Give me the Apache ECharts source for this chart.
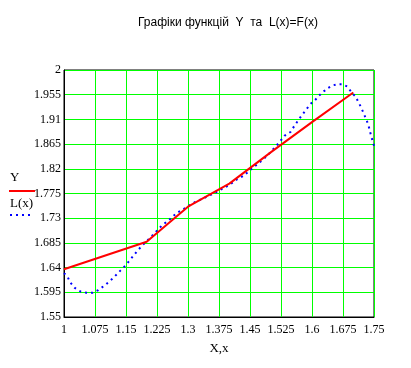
<!DOCTYPE html>
<html>
<head>
<meta charset="utf-8">
<script src="https://cdn.jsdelivr.net/npm/echarts@6/dist/echarts.min.js"></script>
<style>
  html, body { margin: 0; padding: 0; background: #fff; }
  #chart { width: 411px; height: 368px; }
</style>
</head>
<body>
<div id="chart"></div>
<script>
// Y - вузли (червона ламана)
var nodeX = [1.0, 1.2, 1.3, 1.4, 1.5, 1.6, 1.7];
var nodeY = [1.637, 1.687, 1.751, 1.793, 1.850, 1.905, 1.959];

// L(x) - синя пунктирна крива
var lx = [1.000, 1.009, 1.014, 1.026, 1.041, 1.055, 1.069, 1.083, 1.101, 1.119,
          1.137, 1.149, 1.163, 1.178, 1.190, 1.211, 1.222, 1.236, 1.256, 1.272,
          1.294, 1.316, 1.351, 1.372, 1.401, 1.419, 1.434, 1.451, 1.469, 1.486,
          1.502, 1.522, 1.533, 1.548, 1.558, 1.570, 1.584, 1.596, 1.606, 1.618,
          1.630, 1.638, 1.650, 1.661, 1.673, 1.685, 1.698, 1.705, 1.712, 1.718,
          1.724, 1.730, 1.736, 1.743, 1.750];
var ly = [1.630, 1.623, 1.614, 1.603, 1.596, 1.594, 1.594, 1.599, 1.609, 1.621,
          1.635, 1.644, 1.657, 1.671, 1.681, 1.696, 1.705, 1.716, 1.728, 1.739,
          1.749, 1.759, 1.771, 1.779, 1.791, 1.801, 1.807, 1.818, 1.829, 1.840,
          1.852, 1.869, 1.880, 1.887, 1.899, 1.912, 1.926, 1.938, 1.944, 1.954,
          1.962, 1.967, 1.972, 1.974, 1.974, 1.970, 1.957, 1.952, 1.942, 1.933,
          1.923, 1.912, 1.901, 1.880, 1.862];

// осі
var xMin = 1, xMax = 1.75, xStep = 0.075;
var yMin = 1.55, yMax = 2, yStep = 0.045;

var titleText = 'Графіки функцій  Y  та  L(x)=F(x)';

function pairs(xs, ys) {
    var out = [];
    for (var i = 0; i < xs.length; i++) {
        out.push([xs[i], ys[i]]);
    }
    return out;
}

function fmt(v) {
    return String(+v.toFixed(3));
}

var chart = echarts.init(document.getElementById('chart'));
var option = {
    animation: false,
    backgroundColor: '#fff',
    title: {
        text: titleText,
        left: 133,
        top: 12,
        textStyle: {
            fontFamily: 'Liberation Sans',
            fontSize: 12,
            fontWeight: 'normal',
            color: '#000'
        }
    },
    grid: {
        left: 64,
        top: 70,
        width: 310,
        height: 247,
        show: true,
        borderColor: '#000',
        borderWidth: 1
    },
    xAxis: {
        type: 'value',
        min: xMin,
        max: xMax,
        interval: xStep,
        name: 'X,x',
        nameLocation: 'middle',
        nameGap: 25,
        nameTextStyle: { fontFamily: 'Liberation Serif', fontSize: 13, color: '#000' },
        axisLine: { lineStyle: { color: '#000', width: 1 } },
        axisTick: { show: false },
        axisLabel: {
            formatter: fmt,
            margin: 7,
            fontFamily: 'Liberation Serif',
            fontSize: 12,
            color: '#000'
        },
        splitLine: { show: true, lineStyle: { color: '#00ff00', width: 1 } }
    },
    yAxis: {
        type: 'value',
        min: yMin,
        max: yMax,
        interval: yStep,
        axisLine: { lineStyle: { color: '#000', width: 1 } },
        axisTick: { show: false },
        axisLabel: {
            formatter: fmt,
            margin: 3,
            fontFamily: 'Liberation Serif',
            fontSize: 12,
            color: '#000'
        },
        splitLine: { show: true, lineStyle: { color: '#00ff00', width: 1 } }
    },
    series: [
        {
            name: 'L(x)',
            type: 'line',
            data: pairs(lx, ly),
            showSymbol: false,
            smooth: false,
            lineStyle: { color: '#0000ff', width: 2, type: [2, 4] },
            z: 2
        },
        {
            name: 'Y',
            type: 'line',
            data: pairs(nodeX, nodeY),
            showSymbol: false,
            lineStyle: { color: '#ff0000', width: 2 },
            z: 3
        }
    ],
    graphic: [
        { type: 'text', left: 10, top: 171, style: { text: 'Y', font: '13px "Liberation Serif"', fill: '#000' } },
        { type: 'line', shape: { x1: 9, y1: 191, x2: 35, y2: 191 }, style: { stroke: '#ff0000', lineWidth: 2 } },
        { type: 'text', left: 10, top: 197, style: { text: 'L(x)', font: '13px "Liberation Serif"', fill: '#000' } },
        { type: 'line', shape: { x1: 10, y1: 215, x2: 34, y2: 215 }, style: { stroke: '#0000ff', lineWidth: 2, lineDash: [2, 4] } }
    ]
};
chart.setOption(option);
</script>
</body>
</html>
